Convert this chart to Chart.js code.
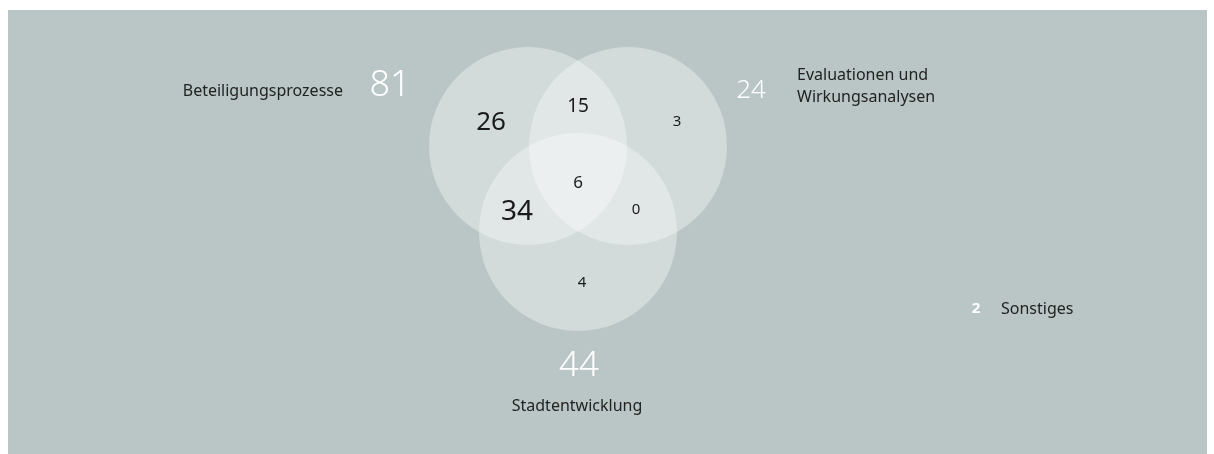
<!DOCTYPE html>
<html>
<head>
<meta charset="utf-8">
<script src="https://cdn.jsdelivr.net/npm/chart.js@4.4.0/dist/chart.umd.min.js"></script>
<style>
  html, body { margin: 0; padding: 0; background: #fff; }
  #wrap { width: 1214px; height: 454px; }
</style>
</head>
<body>
<div id="wrap"><canvas id="venn"></canvas></div>
<script>
// sets of the venn diagram
const setNames = ['Beteiligungsprozesse', 'Evaluationen und\nWirkungsanalysen', 'Stadtentwicklung'];
const setTotals = [81, 24, 44];
const setX = [528, 628, 578];
const setY = [146, 146, 232];
const setRadius = 99;

// counts inside the overlapping regions
const regionCounts = [26, 15, 3, 34, 6, 0, 4];
const regionX = [491, 578, 677, 517, 578, 636, 582];
const regionY = [123, 107, 122, 212, 183, 210, 283];

// category outside the diagram
const otherName = 'Sonstiges';
const otherTotal = 2;

// font sizes per region label (style)
const regionFont = [26, 19, 15, 28, 17, 15, 15];

const bg = '#bac6c6';
const fontFamily = '"Noto Sans", "Open Sans", sans-serif';

const backgroundPlugin = {
  id: 'bgPanel',
  beforeDraw(chart) {
    const c = chart.ctx;
    c.save();
    c.fillStyle = bg;
    c.fillRect(8, 10, 1199, chart.height - 10);
    c.restore();
  }
};

function drawText(c, txt, x, y, size, color, align, weight) {
  c.font = (weight || 400) + ' ' + size + 'px ' + fontFamily;
  c.fillStyle = color;
  c.textAlign = align || 'center';
  c.textBaseline = 'middle';
  c.fillText(txt, x, y);
}

const labelPlugin = {
  id: 'vennLabels',
  afterDatasetsDraw(chart) {
    const c = chart.ctx;
    const xs = chart.scales.x, ys = chart.scales.y;
    c.save();
    regionCounts.forEach((v, i) => {
      drawText(c, String(v), xs.getPixelForValue(regionX[i]), ys.getPixelForValue(regionY[i]), regionFont[i], '#1a1a1a');
    });

    // set totals and names
    const px = (v) => xs.getPixelForValue(v), py = (v) => ys.getPixelForValue(v);
    // left set
    drawText(c, String(setTotals[0]), px(390), py(86), 36, '#fff', 'center', 300);
    drawText(c, setNames[0], px(343), py(91), 16, '#222', 'right');
    // right set
    drawText(c, String(setTotals[1]), px(751), py(91), 26, '#fff', 'center', 300);
    const lines = setNames[1].split('\n');
    drawText(c, lines[0], px(797), py(75), 16, '#222', 'left');
    drawText(c, lines[1], px(797), py(97), 16, '#222', 'left');
    // bottom set
    drawText(c, String(setTotals[2]), px(579), py(366), 35, '#fff', 'center', 300);
    drawText(c, setNames[2], px(577), py(406), 16, '#222', 'center');
    // other
    drawText(c, String(otherTotal), px(976), py(309), 15, '#fff', 'center', 700);
    drawText(c, otherName, px(1001), py(309), 16, '#222', 'left');
    c.restore();
  }
};

new Chart(document.getElementById('venn'), {
  type: 'bubble',
  data: {
    datasets: [{
      data: setX.map((x, i) => ({ x: x, y: setY[i], r: setRadius })),
      backgroundColor: 'rgba(255,255,255,0.35)',
      borderWidth: 0,
      clip: false,
      radius: (ctx) => {
        const s = ctx.chart.scales.x;
        return s.getPixelForValue(setRadius) - s.getPixelForValue(0);
      }
    }]
  },
  options: {
    responsive: true,
    maintainAspectRatio: false,
    animation: false,
    layout: { padding: 0, autoPadding: false },
    plugins: { legend: { display: false }, tooltip: { enabled: false } },
    events: [],
    scales: {
      x: { type: 'linear', min: 0, max: 1214, display: false },
      y: { type: 'linear', min: 0, max: 454, reverse: true, display: false }
    }
  },
  plugins: [backgroundPlugin, labelPlugin]
});
</script>
</body>
</html>
